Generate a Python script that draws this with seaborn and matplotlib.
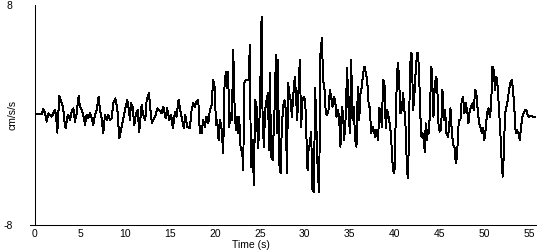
import matplotlib
matplotlib.use("Agg")
import matplotlib.pyplot as plt
import seaborn as sns
import pandas as pd

# Values (time in s, acceleration in cm/s/s)
time_s = [
    0.00, 0.74, 0.93, 1.11, 1.30, 1.48, 1.67, 1.85, 2.04, 2.22, 2.33, 2.48, 2.70, 2.85, 3.00, 3.15,
    3.26, 3.41, 3.56, 3.70, 3.89, 4.07, 4.26, 4.44, 4.63, 4.85, 5.00, 5.19, 5.37, 5.56, 5.74, 5.93,
    6.11, 6.30, 6.48, 6.67, 6.85, 7.07, 7.22, 7.41, 7.59, 7.78, 7.96, 8.15, 8.33, 8.52, 8.70, 8.93,
    9.15, 9.37, 9.52, 9.67, 9.89, 10.04, 10.26, 10.41, 10.56, 10.67, 10.85, 11.04, 11.22, 11.41,
    11.59, 11.74, 11.85, 12.04, 12.26, 12.41, 12.67, 12.85, 13.00, 13.22, 13.37, 13.59, 13.81,
    14.07, 14.26, 14.52, 14.70, 14.93, 15.15, 15.33, 15.56, 15.74, 15.96, 16.15, 16.41, 16.56,
    16.70, 16.93, 17.22, 17.41, 17.59, 17.78, 17.96, 18.15, 18.33,
    18.52, 18.70, 18.89, 19.07, 19.26, 19.44, 19.63, 19.81, 20.00, 20.11, 20.26, 20.41, 20.56,
    20.74, 20.93, 21.04, 21.22, 21.37, 21.48, 21.59, 21.74, 21.89, 22.04, 22.19, 22.33, 22.48,
    22.59, 22.70, 22.85, 22.96, 23.07, 23.15, 23.26, 23.41, 23.59, 23.74, 23.89, 24.00, 24.19,
    24.33, 24.48, 24.63, 24.81, 25.00, 25.19, 25.30, 25.44, 25.59, 25.74, 25.89, 26.04, 26.11,
    26.26, 26.41, 26.56, 26.67, 26.78, 26.89, 27.00, 27.15, 27.30, 27.44, 27.59, 27.74, 27.89,
    28.00, 28.15, 28.26, 28.41, 28.56, 28.70, 28.89, 29.00, 29.15, 29.30, 29.44, 29.59, 29.74,
    29.89, 30.04, 30.19, 30.30, 30.41, 30.56, 30.70, 30.85, 31.00, 31.15, 31.30, 31.44, 31.59,
    31.74, 31.89, 32.04, 32.19, 32.33, 32.48, 32.63, 32.78, 32.93, 33.07, 33.22, 33.37, 33.52,
    33.67, 33.81, 33.96, 34.11, 34.26, 34.37, 34.52, 34.70, 34.85, 35.00, 35.15, 35.30, 35.44,
    35.59, 35.74, 35.89, 36.04, 36.19, 36.33, 36.48, 36.63, 36.78, 36.93, 37.11,
    37.22, 37.37, 37.52, 37.67, 37.81, 37.96, 38.15, 38.26, 38.41, 38.56, 38.70, 38.85, 39.00,
    39.15, 39.30, 39.44, 39.59, 39.70, 39.81, 39.96, 40.11, 40.26, 40.37, 40.48, 40.63, 40.78,
    40.93, 41.07, 41.22, 41.33, 41.44, 41.56, 41.67, 41.78, 41.89, 42.04, 42.19, 42.33, 42.48,
    42.59, 42.70, 42.85, 42.96, 43.07, 43.22, 43.33, 43.44, 43.56, 43.70, 43.81, 43.96, 44.07,
    44.19, 44.30, 44.41, 44.56, 44.70, 44.85, 45.00, 45.15, 45.30, 45.44, 45.59, 45.74, 45.93,
    46.07, 46.19, 46.33, 46.48, 46.63, 46.78, 46.93, 47.04, 47.15, 47.30, 47.44, 47.59, 47.74,
    47.89, 48.04, 48.19, 48.33, 48.48, 48.63, 48.78, 48.93, 49.07, 49.22, 49.37, 49.52, 49.67,
    49.81, 49.96, 50.11, 50.26, 50.41, 50.56, 50.70, 50.85, 51.00, 51.15, 51.30, 51.44, 51.59,
    51.74, 51.89, 52.00, 52.11, 52.26, 52.41, 52.56, 52.70, 52.85, 53.00, 53.15, 53.30, 53.44,
    53.59, 53.74, 53.89, 54.04, 54.19, 54.33, 54.48, 54.63, 54.78, 54.93, 55.07, 55.37, 55.63,
]
accel = [
    0.07, 0.07, 0.44, 0.12, -0.48, 0.12, 0.00, -0.12, 0.12, 0.36, 0.00, -1.28, 1.38, 1.09, 0.85, 0.36,
    -0.36, -0.97, -0.24, 0.00, -0.36, 0.24, 0.48, -0.48, 0.12, 1.38, 0.61, 0.36, 0.00, -0.73, 0.00, -0.24,
    0.12, -0.24, -0.73, 0.00, 0.36, 1.33, 0.36, -0.24, -1.33, 0.00, -0.36, 0.00, -0.36, -0.24, 0.85, 1.21,
    0.48, -1.70, -1.21, -0.73, 0.00, 0.48, 1.09, 0.48, -0.36, 0.85, 0.61, -0.73, 0.12, 0.36,
    -1.21, -0.12, 0.73, 0.00, -0.36, 1.09, 1.58, 0.24, -0.61, -0.24, -0.12, 0.48, 0.36,
    0.12, 0.61, -0.24, 0.48, -0.36, 0.00, -0.97, 0.24, -0.12, 1.09, 0.36, -0.48, -0.97,
    0.00, -0.85, -0.97, 0.36, 0.85, 0.61, 0.97, 1.09, -1.33,
    -1.33, -0.36, -0.85, -0.12, -0.61, 0.36, 0.73, 2.55, 1.94, -0.73, -0.36, -1.82, -0.36,
    -0.97, -2.79, 1.82, 3.15, 1.94, 3.15, -0.85, 0.12, -0.36, 4.73, 0.61, -1.09, -0.12,
    -1.33, -0.12, -2.30, -2.55, -3.03, -4.00, 2.30, 2.55, 2.55, 2.55, 5.09, -3.76, -1.82,
    -5.09, 1.09, 0.61, -2.42, 0.36, 7.15, -0.12, -2.30, 0.36, 1.09, 1.58, -2.55, 3.03,
    -3.03, -3.27, -0.73, 1.09, 4.36, -1.33, 4.00, -3.52, -4.24, -0.85, 0.61, 1.09, 0.36,
    -4.24, 2.30, 1.58, 1.09, -0.12, 1.33, 2.79, 1.58, -0.36, 1.82, 4.00, -0.85, 1.09,
    1.33, 1.09, -1.82, -4.00, -2.55, -2.06, -1.21, -5.45, -5.58, 1.94, -1.33, -4.24, -5.58,
    4.48, 5.58, 2.55, 1.82, 0.12, 0.00, 0.36, 1.82, 1.33, 0.61, 1.33, 1.09, -0.12,
    0.36, -0.12, -2.30, 0.61, 0.00, -1.82, -0.36, 3.39, 0.61, -1.33, 4.00, -0.36, 0.61,
    -1.82, -2.30, 2.06, -0.36, 1.58, 2.06, 3.03, 3.52, 3.03, 2.55, 0.61,
    0.61, -1.33, -0.85, -1.09, -1.58, -1.09, -1.82, 0.48, 0.36, -0.85, 2.55, 2.30, -0.97,
    0.36, -0.12, -0.61, -1.58, -3.03, -4.00, -4.24, -0.12, 3.15, 3.76, 2.55, 0.12, 0.36,
    1.58, 0.36, -1.09, -3.52, -4.61, -2.30, 2.55, 4.48, 4.48, 0.36, 1.58, 3.27, 4.48,
    4.48, 3.03, -0.12, -1.58, -1.33, -1.82, -2.67, -0.61, -1.82, -1.09, -1.33, 1.58, 3.52,
    2.06, -0.12, 1.58, 2.79, 2.55, -0.61, -1.21, -1.09, 1.82, -0.36, 0.36, -1.33, -1.58,
    -0.61, 0.48, -1.09, -2.18, -2.30, -3.52, -3.03, -1.09, -0.36, -0.36, 1.09, 1.33, 0.12,
    0.85, 0.36, -0.61, 0.36, 0.61, 0.85, 0.36, 1.82, 1.58, 0.36, -0.61, -0.85, -1.33,
    -0.97, -1.82, -0.97, 0.12, 0.48, -0.12, 0.48, 3.52, 3.27, 1.82, 2.79, 2.06, 0.36,
    -1.33, -3.52, -4.48, -3.03, 0.12, 0.61, 1.09, 1.82, 2.30, 2.55, 1.82, 0.36, -1.33,
    -1.09, -1.33, -1.82, -0.85, -0.12, 0.12, 0.36, 0.36, 0.00, -0.12, -0.07, -0.12, -0.12,
]
x_ticks = [0, 5, 10, 15, 20, 25, 30, 35, 40, 45, 50, 55]
y_ticks = [-8, 8]
x_label = "Time (s)"
y_label = "cm/s/s"

df = pd.DataFrame({"t": time_s, "a": accel})

sns.set_style("white")
plt.rcParams["font.family"] = ["Liberation Sans", "DejaVu Sans"]
plt.rcParams["text.color"] = "black"
plt.rcParams["axes.labelcolor"] = "black"
plt.rcParams["xtick.color"] = "black"
plt.rcParams["ytick.color"] = "black"

fig = plt.figure(figsize=(5.5, 2.5), dpi=100)
ax = fig.add_axes([35 / 550, 25 / 250, 501 / 550, 220 / 250])
sns.lineplot(data=df, x="t", y="a", ax=ax, color="black", linewidth=0.7,
             sort=False, estimator=None, antialiased=False)

ax.set_xlim(0, 55.7)
ax.set_ylim(-8, 8)
ax.set_xticks(x_ticks)
ax.set_yticks(y_ticks)
ax.set_yticklabels([str(v) for v in y_ticks])
ax.tick_params(axis="x", length=2, width=0.75, pad=1, labelsize=7.5, direction="out",
               color="black", labelcolor="black")
ax.tick_params(axis="y", length=0, pad=16, labelsize=7.5, labelcolor="black")
for s in ["top", "right"]:
    ax.spines[s].set_visible(False)
for s in ["left", "bottom"]:
    ax.spines[s].set_color("black")
    ax.spines[s].set_linewidth(0.75)
ax.spines["bottom"].set_bounds(-0.56, 55.7)

ax.set_xlabel(x_label, fontsize=7.5, color="black")
ax.xaxis.set_label_coords(0.431, -0.068)
ax.xaxis.label.set_verticalalignment("top")
ax.set_ylabel(y_label, fontsize=7.5, color="black")
ax.yaxis.set_label_coords(-0.045, 0.5)
ax.yaxis.label.set_verticalalignment("center")
ax.grid(False)

fig.savefig("out.png", dpi=100)
